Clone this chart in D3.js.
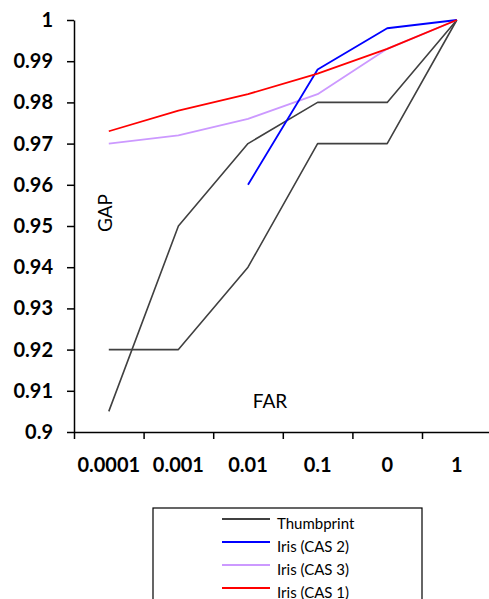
<!DOCTYPE html>
<html><head><meta charset="utf-8">
<script src="https://cdn.jsdelivr.net/npm/d3@7"></script>
<style>body{margin:0;background:#fff}svg{display:block}</style>
</head><body>
<svg id="c" width="489" height="599"></svg>
<script>
const categories = ["0.0001","0.001","0.01","0.1","0","1"];
const yTicks = [0.9,0.91,0.92,0.93,0.94,0.95,0.96,0.97,0.98,0.99,1];
const yTickLabels = ["0.9","0.91","0.92","0.93","0.94","0.95","0.96","0.97","0.98","0.99","1"];
const thumbprintA = [0.92,0.92,0.94,0.97,0.97,1];
const thumbprintB = [0.905,0.95,0.97,0.98,0.98,1];
const irisCAS2 = [null,null,0.96,0.988,0.998,1];
const irisCAS3 = [0.970,0.972,0.976,0.982,0.993,1];
const irisCAS1 = [0.973,0.978,0.982,0.987,0.993,1];
const seriesNames = ["Thumbprint","Iris (CAS 2)","Iris (CAS 3)","Iris (CAS 1)"];
const seriesColors = ["#404040","#0000ff","#cc99ff","#ff0000"];

const svg = d3.select("#c");
const mLeft = 74, mRight = 491.6, mTop = 20, mBottom = 432;
const x = d3.scaleBand().domain(categories).range([mLeft, mRight]).padding(0);
const xEdge = d3.scaleLinear().domain([0, categories.length]).range([mLeft, mRight]);
const y = d3.scaleLinear().domain([0.9, 1]).range([mBottom, mTop]);

// y axis
const ya = svg.append("g").attr("transform", `translate(${mLeft},0)`)
  .call(d3.axisLeft(y).tickValues(yTicks).tickFormat((d,i)=>yTickLabels[i]).tickSize(7).tickSizeOuter(0).tickPadding(14));
ya.selectAll("text").attr("font-family","Lato").attr("font-weight","bold").attr("font-size",20).attr("fill","#000");
ya.selectAll("line,path").attr("stroke","#000").attr("stroke-width",1.5);

// x axis ticks at boundaries
const xa = svg.append("g").attr("transform", `translate(0,${mBottom})`)
  .call(d3.axisBottom(xEdge).tickValues(d3.range(categories.length+1)).tickFormat("").tickSize(7).tickSizeOuter(0));
xa.selectAll("line,path").attr("stroke","#000").attr("stroke-width",1.5);
// x labels
const xl = svg.append("g").attr("transform", `translate(0,${mBottom})`)
  .call(d3.axisBottom(x).tickSize(0).tickPadding(26));
xl.select("path").remove();
xl.selectAll("text").attr("font-family","Lato").attr("font-weight","bold").attr("font-size",20).attr("fill","#000");

// axis titles
svg.append("text").attr("x",270).attr("y",408).attr("text-anchor","middle")
  .attr("font-family","Lato").attr("font-size",19).text("FAR");
svg.append("text").attr("transform","translate(112,213) rotate(-90)").attr("text-anchor","middle")
  .attr("font-family","Lato").attr("font-size",19).text("GAP");

// lines
const line = d3.line().defined(d=>d!=null).x((d,i)=>x(categories[i])+x.bandwidth()/2).y(d=>y(d));
const series = [
  {vals: thumbprintA, c: seriesColors[0], w: 1.6},
  {vals: thumbprintB, c: seriesColors[0], w: 1.6},
  {vals: irisCAS3, c: seriesColors[2], w: 1.8},
  {vals: irisCAS2, c: seriesColors[1], w: 1.8},
  {vals: irisCAS1, c: seriesColors[3], w: 1.8},
];
series.forEach(s=>{
  svg.append("path").datum(s.vals).attr("d", line).attr("fill","none")
    .attr("stroke", s.c).attr("stroke-width", s.w).attr("stroke-linejoin","round");
});

// legend
const lg = svg.append("g");
lg.append("rect").attr("x",153).attr("y",508).attr("width",269).attr("height",100)
  .attr("fill","#fff").attr("stroke","#000").attr("stroke-width",1.2);
seriesNames.forEach((n,i)=>{
  const yy = 519 + i*23;
  lg.append("line").attr("x1",222).attr("x2",270).attr("y1",yy).attr("y2",yy)
    .attr("stroke",seriesColors[i]).attr("stroke-width",1.8);
  lg.append("text").attr("x",277).attr("y",yy+10).attr("font-family","Lato").attr("font-size",15).text(n);
});
</script>
</body></html>
